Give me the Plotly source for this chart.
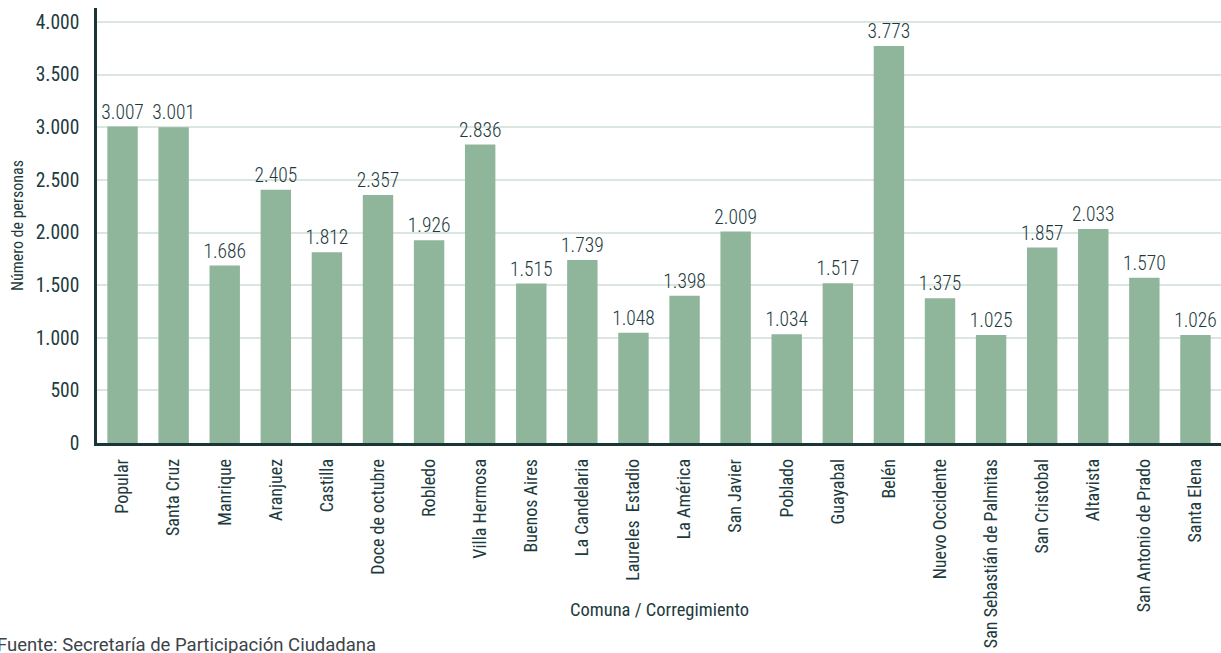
import plotly.graph_objects as go

categories = ["Popular", "Santa Cruz", "Manrique", "Aranjuez", "Castilla", "Doce de octubre",
              "Robledo", "Villa Hermosa", "Buenos Aires", "La Candelaria", "Laureles  Estadio",
              "La América", "San Javier", "Poblado", "Guayabal", "Belén", "Nuevo Occidente",
              "San Sebastián de Palmitas", "San Cristobal", "Altavista", "San Antonio de Prado",
              "Santa Elena"]
values = [3007, 3001, 1686, 2405, 1812, 2357, 1926, 2836, 1515, 1739, 1048, 1398, 2009,
          1034, 1517, 3773, 1375, 1025, 1857, 2033, 1570, 1026]
y_ticks = [0, 500, 1000, 1500, 2000, 2500, 3000, 3500, 4000]

FONT = "Roboto Condensed, Liberation Sans Narrow, sans-serif"
DARK = "#1d3b3e"

L, R, T, B = 97, 0, 8, 210
W, H = 1221, 653
PW, PH = W - L - R, H - T - B

fig = go.Figure(go.Bar(
    x=categories, y=values,
    marker=dict(color="#8fb59b", line=dict(width=0)),
    text=values, texttemplate="%{y:,}", textposition="outside",
    constraintext="none",
    textfont=dict(family=FONT, size=19.5, color=DARK, weight=300),
    cliponaxis=False,
))

fig.update_layout(
    width=W, height=H,
    margin=dict(l=L, r=R, t=T, b=B),
    paper_bgcolor="white", plot_bgcolor="white",
    separators=",.",
    bargap=0.405,
    showlegend=False,
    font=dict(family=FONT, color=DARK),
)
fig.update_xaxes(
    tickangle=-90, tickfont=dict(family=FONT, size=18, color=DARK),
    showline=True, linecolor="#1a3536", linewidth=2.5, ticks="",
    ticklabelstandoff=6, automargin=False,
)
fig.update_yaxes(
    range=[0, 4133], tickvals=y_ticks, tickformat=",",
    tickfont=dict(family=FONT, size=19.5, color=DARK),
    showline=True, linecolor="#1a3536", linewidth=2.5, ticks="",
    ticklabelstandoff=11, automargin=False,
    showgrid=True, gridcolor="#dce6e0", gridwidth=1.5, zeroline=False,
)
fig.add_annotation(
    text="Número de personas", textangle=-90,
    xref="paper", yref="paper", x=(17 - L) / PW, y=(H - B - 225) / PH,
    xanchor="center", yanchor="middle", showarrow=False,
    font=dict(family=FONT, size=16, color=DARK),
)
fig.add_annotation(
    text="Comuna / Corregimiento",
    xref="paper", yref="paper", x=(659 - L) / PW, y=(H - B - 610) / PH,
    xanchor="center", yanchor="middle", showarrow=False,
    font=dict(family=FONT, size=18.5, color=DARK),
)
fig.add_annotation(
    text="Fuente: Secretaría de Participación Ciudadana",
    xref="paper", yref="paper", x=(-5 - L) / PW, y=(H - B - 645) / PH,
    xanchor="left", yanchor="middle", showarrow=False,
    font=dict(family="Roboto, sans-serif", size=18.5, color="#3a4448"),
)

fig.write_html("out.html", config={"displayModeBar": False},
               post_script="document.body.style.margin='0';")
